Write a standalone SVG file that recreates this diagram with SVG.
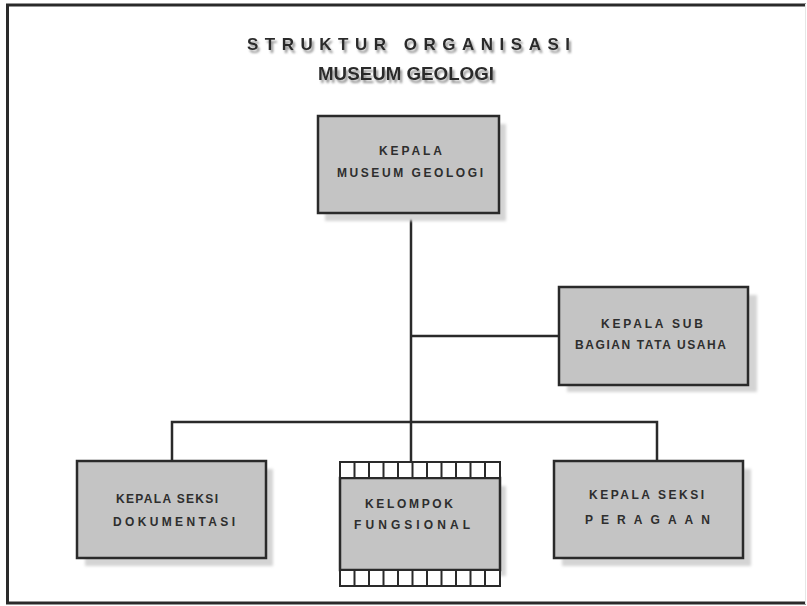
<svg xmlns="http://www.w3.org/2000/svg" width="807" height="606" viewBox="0 0 807 606">
<defs>
<filter id="blur" x="-10%" y="-10%" width="120%" height="120%"><feGaussianBlur stdDeviation="1.5"/></filter>
<filter id="tshadow" x="-10%" y="-40%" width="120%" height="200%"><feDropShadow dx="2" dy="3" stdDeviation="1.2" flood-color="#8a8a8a" flood-opacity="0.9"/></filter>
</defs>
<style>
.box{fill:#c4c4c4;stroke:#2a2a2a;stroke-width:2.5}
.shadow{fill:#d4d4d4;filter:url(#blur)}
.t{font-family:"Liberation Sans",Arial,sans-serif;font-weight:bold;font-size:12px;fill:#2e2e2e;text-anchor:middle}
.title{font-family:"Liberation Sans",Arial,sans-serif;font-weight:bold;fill:#2a2a2a;text-anchor:middle;filter:url(#tshadow)}
.line{stroke:#2a2a2a;stroke-width:2.5;fill:none}
.cell{fill:#ffffff;stroke:#2a2a2a;stroke-width:2}
</style>
<rect x="0" y="0" width="807" height="606" fill="#ffffff"/>
<g id="frame">
<line x1="6" y1="5" x2="806" y2="5" stroke="#2a2a2a" stroke-width="3"/>
<line x1="7.5" y1="4" x2="7.5" y2="604" stroke="#2a2a2a" stroke-width="3"/>
<line x1="6" y1="603" x2="806" y2="603" stroke="#2a2a2a" stroke-width="3"/>
<line x1="805.5" y1="4" x2="805.5" y2="604" stroke="#e6e6e6" stroke-width="1"/>
</g>
<g id="title">
<text class="title" x="408.5" y="50" font-size="17" textLength="323" lengthAdjust="spacing">STRUKTUR ORGANISASI</text>
<text class="title" x="406" y="80" font-size="19" textLength="176" lengthAdjust="spacingAndGlyphs">MUSEUM GEOLOGI</text>
</g>
<g id="connectors">
<line class="line" x1="411" y1="213" x2="411" y2="462"/>
<line class="line" x1="411" y1="336" x2="559" y2="336"/>
<polyline class="line" points="172,461 172,422 657,422 657,461"/>
</g>
<g id="kepala">
<rect class="shadow" x="325" y="124" width="181" height="97"/>
<rect class="box" x="318" y="116" width="181" height="97"/>
<text class="t" x="410.5" y="155" textLength="63" lengthAdjust="spacing">KEPALA</text>
<text class="t" x="410" y="177" textLength="146" lengthAdjust="spacing">MUSEUM GEOLOGI</text>
</g>
<g id="subbagian">
<rect class="shadow" x="567" y="295" width="190" height="97"/>
<rect class="box" x="559" y="287" width="189" height="98"/>
<text class="t" x="652" y="328" textLength="102" lengthAdjust="spacing">KEPALA  SUB</text>
<text class="t" x="650.5" y="349" textLength="151" lengthAdjust="spacing">BAGIAN TATA USAHA</text>
</g>
<g id="dokumentasi">
<rect class="shadow" x="85" y="469" width="188" height="97"/>
<rect class="box" x="77" y="461" width="189" height="97"/>
<text class="t" x="167" y="503" textLength="102" lengthAdjust="spacing">KEPALA SEKSI</text>
<text class="t" x="174" y="526" textLength="122" lengthAdjust="spacing">DOKUMENTASI</text>
</g>
<g id="peragaan">
<rect class="shadow" x="562" y="469" width="189" height="97"/>
<rect class="box" x="554" y="461" width="189" height="97"/>
<text class="t" x="646.5" y="499" textLength="115" lengthAdjust="spacing">KEPALA SEKSI</text>
<text class="t" x="647.5" y="524" textLength="125" lengthAdjust="spacing">PERAGAAN</text>
</g>
<g id="fungsional">
<rect class="shadow" x="346" y="486" width="160" height="90"/>
<rect class="box" x="340" y="478" width="160" height="92"/>
<rect class="cell" x="340" y="462" width="160" height="16"/>
<rect class="cell" x="340" y="570" width="160" height="16"/>
<path class="line" style="stroke-width:2" d="M354.5 462V478M369 462V478M383.5 462V478M398 462V478M412.5 462V478M427 462V478M441.5 462V478M456 462V478M470.5 462V478M485 462V478M354.5 570V586M369 570V586M383.5 570V586M398 570V586M412.5 570V586M427 570V586M441.5 570V586M456 570V586M470.5 570V586M485 570V586"/>
<text class="t" x="409" y="508" textLength="88" lengthAdjust="spacing">KELOMPOK</text>
<text class="t" x="412" y="529" textLength="116" lengthAdjust="spacing">FUNGSIONAL</text>
</g>
</svg>
